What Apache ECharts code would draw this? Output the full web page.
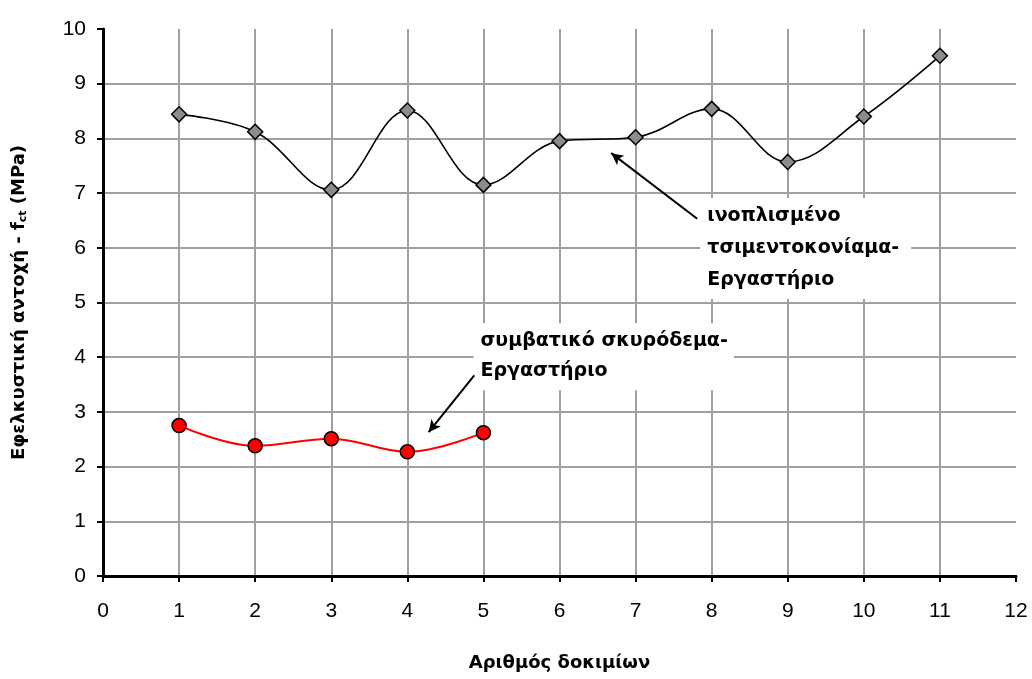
<!DOCTYPE html>
<html>
<head>
<meta charset="utf-8">
<script src="https://cdn.jsdelivr.net/npm/echarts@6/dist/echarts.min.js"></script>
<style>
  html, body { margin: 0; padding: 0; background: #fff; }
  #chart { width: 1032px; height: 679px; }
</style>
</head>
<body>
<div id="chart"></div>
<script>
// Specimen numbers
const specimens = [1, 2, 3, 4, 5, 6, 7, 8, 9, 10, 11];
// Tensile strength f_ct (MPa), reinforced mortar – laboratory
const mortarValues = [8.44, 8.12, 7.06, 8.51, 7.15, 7.95, 8.02, 8.54, 7.57, 8.40, 9.51];
// Tensile strength f_ct (MPa), conventional concrete – laboratory
const concreteValues = [2.75, 2.38, 2.51, 2.27, 2.62];

// Annotation texts
const mortarNote = ['ινοπλισμένο', 'τσιμεντοκονίαμα-', 'Εργαστήριο'];
const concreteNote = ['συμβατικό σκυρόδεμα-', 'Εργαστήριο'];

// Anchor points (in data units) for the notes and their arrows
const mortarNoteAt = [7.85, 6.91];
const mortarArrow = [[7.81, 6.53], [6.68, 7.73]];
const concreteNoteAt = [4.87, 4.62];
const concreteArrow = [[4.88, 3.67], [4.28, 2.63]];

const FONT = '"Liberation Sans", Arial, sans-serif';
const BOLD_FONT = '"DejaVu Sans", "Liberation Sans", sans-serif';

const chart = echarts.init(document.getElementById('chart'), null, { renderer: 'canvas' });

const pairs = (xs, ys) => ys.map((v, i) => [xs[i], v]);

const noteLabel = (lines, lh, pad) => ({
  show: true,
  position: [0, 0],
  align: 'left',
  verticalAlign: 'top',
  formatter: lines.join('\n'),
  fontFamily: BOLD_FONT,
  fontWeight: 'bold',
  fontSize: 19,
  lineHeight: lh,
  color: '#000',
  opacity: 1,
  backgroundColor: '#fff',
  padding: pad
});

const option = {
  animation: false,
  backgroundColor: '#fff',
  grid: { left: 103, right: 16, top: 29, bottom: 103, containLabel: false },
  xAxis: [{
    type: 'value', min: 0, max: 12, interval: 1,
    name: 'Αριθμός δοκιμίων',
    nameLocation: 'middle', nameGap: 78,
    nameTextStyle: { fontFamily: BOLD_FONT, fontWeight: 'bold', fontSize: 18, color: '#000' },
    axisLine: { show: true, onZero: false, lineStyle: { color: '#000', width: 3 } },
    axisTick: { show: true, inside: false, length: 6, lineStyle: { color: '#000', width: 2 } },
    axisLabel: { fontFamily: FONT, fontSize: 21, color: '#000', margin: 25 },
    splitLine: { show: true, showMinLine: false, showMaxLine: false, lineStyle: { color: '#a0a0a0', width: 2 } }
  }, {
    type: 'value', position: 'top', min: 0, max: 12,
    axisLine: { show: true, lineStyle: { color: '#000', width: 2 } },
    axisTick: { show: false }, axisLabel: { show: false }, splitLine: { show: false }
  }],
  yAxis: [{
    type: 'value', min: 0, max: 10, interval: 1,
    name: '{a|Εφελκυστική αντοχή - f}{s|ct}{a| (MPa)}',
    nameLocation: 'middle', nameGap: 74, nameRotate: 90,
    nameTextStyle: {
      rich: {
        a: { fontFamily: BOLD_FONT, fontWeight: 'bold', fontSize: 18, color: '#000' },
        s: { fontFamily: BOLD_FONT, fontWeight: 'bold', fontSize: 11, color: '#000', verticalAlign: 'bottom', padding: [8, 0, 0, 0] }
      }
    },
    axisLine: { show: true, onZero: false, lineStyle: { color: '#000', width: 3 } },
    axisTick: { show: true, inside: false, length: 6, lineStyle: { color: '#000', width: 2 } },
    axisLabel: { fontFamily: FONT, fontSize: 21, color: '#000', margin: 17 },
    splitLine: { show: true, showMinLine: false, showMaxLine: false, lineStyle: { color: '#a0a0a0', width: 2 } }
  }, {
    type: 'value', position: 'right', min: 0, max: 10,
    axisLine: { show: true, lineStyle: { color: '#000', width: 2 } },
    axisTick: { show: false }, axisLabel: { show: false }, splitLine: { show: false }
  }],
  series: [
    {
      name: 'ινοπλισμένο τσιμεντοκονίαμα-Εργαστήριο',
      type: 'line',
      data: pairs(specimens, mortarValues),
      smooth: 0.38,
      symbol: 'diamond',
      symbolSize: 15,
      z: 5,
      lineStyle: { color: '#000', width: 1.6 },
      itemStyle: { color: '#8c8c8c', borderColor: '#000', borderWidth: 1.5 }
    },
    {
      name: 'συμβατικό σκυρόδεμα-Εργαστήριο',
      type: 'line',
      data: pairs(specimens, concreteValues),
      smooth: 0.38,
      symbol: 'circle',
      symbolSize: 14,
      z: 5,
      lineStyle: { color: '#ff0000', width: 2 },
      itemStyle: { color: '#ff0000', borderColor: '#000', borderWidth: 1.5 }
    },
    {
      name: 'notes',
      type: 'scatter',
      symbolSize: 0,
      z: 4,
      silent: true,
      itemStyle: { opacity: 1 },
      data: [
        { value: mortarNoteAt, label: noteLabel(mortarNote, 32, [2, 12, 3, 7]) },
        { value: concreteNoteAt, label: noteLabel(concreteNote, 30, [3, 6, 4, 7]) }
      ],
      markLine: {
        silent: true,
        symbol: ['none', 'arrow'],
        symbolSize: [9, 12],
        label: { show: false },
        lineStyle: { color: '#000', width: 2, type: 'solid', opacity: 1 },
        data: [
          [{ coord: mortarArrow[0] }, { coord: mortarArrow[1] }],
          [{ coord: concreteArrow[0] }, { coord: concreteArrow[1] }]
        ]
      }
    }
  ]
};

chart.setOption(option);
</script>
</body>
</html>
